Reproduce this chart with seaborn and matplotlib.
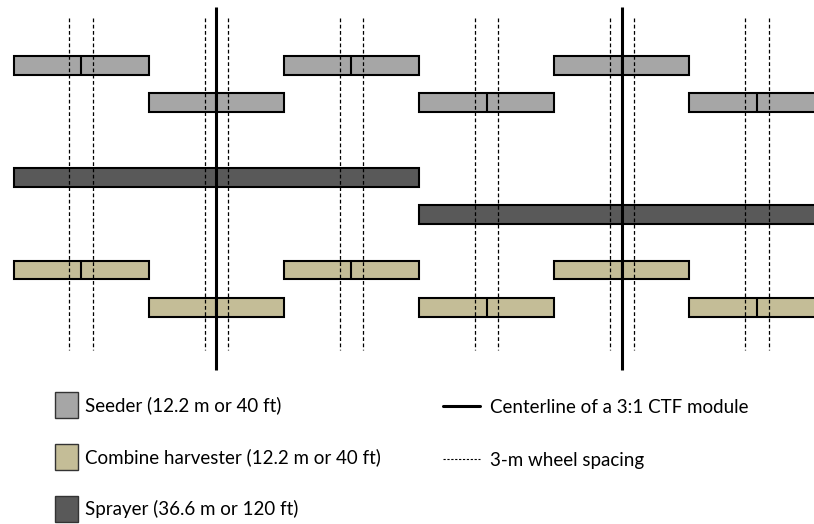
import matplotlib
matplotlib.use("Agg")
import pandas as pd
import matplotlib.pyplot as plt
import seaborn as sns
from matplotlib.patches import Patch
from matplotlib.lines import Line2D

sns.set_theme(style="white")
plt.rcParams["font.family"] = ["Lato", "DejaVu Sans"]

# Machine passes across the field, in metres (x) and lane rows (y)
SEEDER_W = 12.2
SPRAYER_W = 36.6
seeder_rows = [0, 1]
seeder_starts = [[0.0, 24.4, 48.8], [12.2, 36.6, 61.0]]
sprayer_rows = [3, 4]
sprayer_starts = [[0.0], [36.6]]
combine_rows = [5.5, 6.5]
combine_starts = [[0.0, 24.4, 48.8], [12.2, 36.6, 61.0]]

centerlines = [18.3, 54.9]
wheel_centres = [6.1, 18.3, 30.5, 42.7, 54.9, 67.1]
wheel_half = 1.06

labels = {
    "seeder": "Seeder (12.2 m or 40 ft)",
    "combine": "Combine harvester (12.2 m or 40 ft)",
    "sprayer": "Sprayer (36.6 m or 120 ft)",
    "centre": "Centerline of a 3:1 CTF module",
    "wheel": "3-m wheel spacing",
}
colors = {"seeder": "#a6a6a6", "combine": "#c4bd97", "sprayer": "#595959"}


def passes(name, rows, starts, width):
    recs = []
    for r, st in zip(rows, starts):
        for s in st:
            recs.append({"machine": name, "row": r, "start": s, "width": width})
    return recs


df = pd.DataFrame(
    passes("seeder", seeder_rows, seeder_starts, SEEDER_W)
    + passes("sprayer", sprayer_rows, sprayer_starts, SPRAYER_W)
    + passes("combine", combine_rows, combine_starts, SEEDER_W)
)

fig = plt.figure(figsize=(8.14, 5.24), dpi=100)
ax = fig.add_axes([0, 0, 1, 1])
ax.set_axis_off()

BAR_H = 0.51
for m, grp in df.groupby("machine"):
    ax.barh(grp["row"], grp["width"], left=grp["start"], height=BAR_H,
            color=colors[m], edgecolor="black", linewidth=1.5, zorder=2)
    # centre mark on the 12.2 m implements
    narrow = grp[grp["width"] == SEEDER_W]
    ax.vlines(narrow["start"] + narrow["width"] / 2, narrow["row"] - BAR_H / 2,
              narrow["row"] + BAR_H / 2, color="black", linewidth=1.5, zorder=3)

for c in wheel_centres:
    ax.vlines([c - wheel_half, c + wheel_half], -1.28, 7.65, color="black",
              linewidth=0.9, linestyles=(0, (3, 2)), zorder=4)
ax.vlines(centerlines, -1.57, 8.2, color="black", linewidth=2.2, zorder=5)

ax.set_xlim(-1.22, 72.25)
ax.set_ylim(12.33, -1.76)

# legends
FS = 13.5
h_left = [Patch(facecolor=colors[k], edgecolor="#333333", linewidth=1.0)
          for k in ["seeder", "combine", "sprayer"]]
fig.legend(h_left, [labels[k] for k in ["seeder", "combine", "sprayer"]],
           loc="upper left", bbox_to_anchor=(55 / 814, 1 - 392 / 524),
           frameon=False, fontsize=FS, labelcolor="black", borderpad=0,
           borderaxespad=0, handlelength=1.21, handleheight=1.74,
           handletextpad=0.39, labelspacing=1.4)
h_right = [Line2D([], [], color="black", linewidth=2.2),
           Line2D([], [], color="black", linewidth=0.8, linestyle=(0, (2, 1.5)))]
fig.legend(h_right, [labels["centre"], labels["wheel"]],
           loc="upper left", bbox_to_anchor=(443 / 814, 1 - 399 / 524),
           frameon=False, fontsize=FS, labelcolor="black", borderpad=0,
           borderaxespad=0, handlelength=1.97, handletextpad=0.52,
           labelspacing=1.9)

fig.savefig("out.png", dpi=100)
